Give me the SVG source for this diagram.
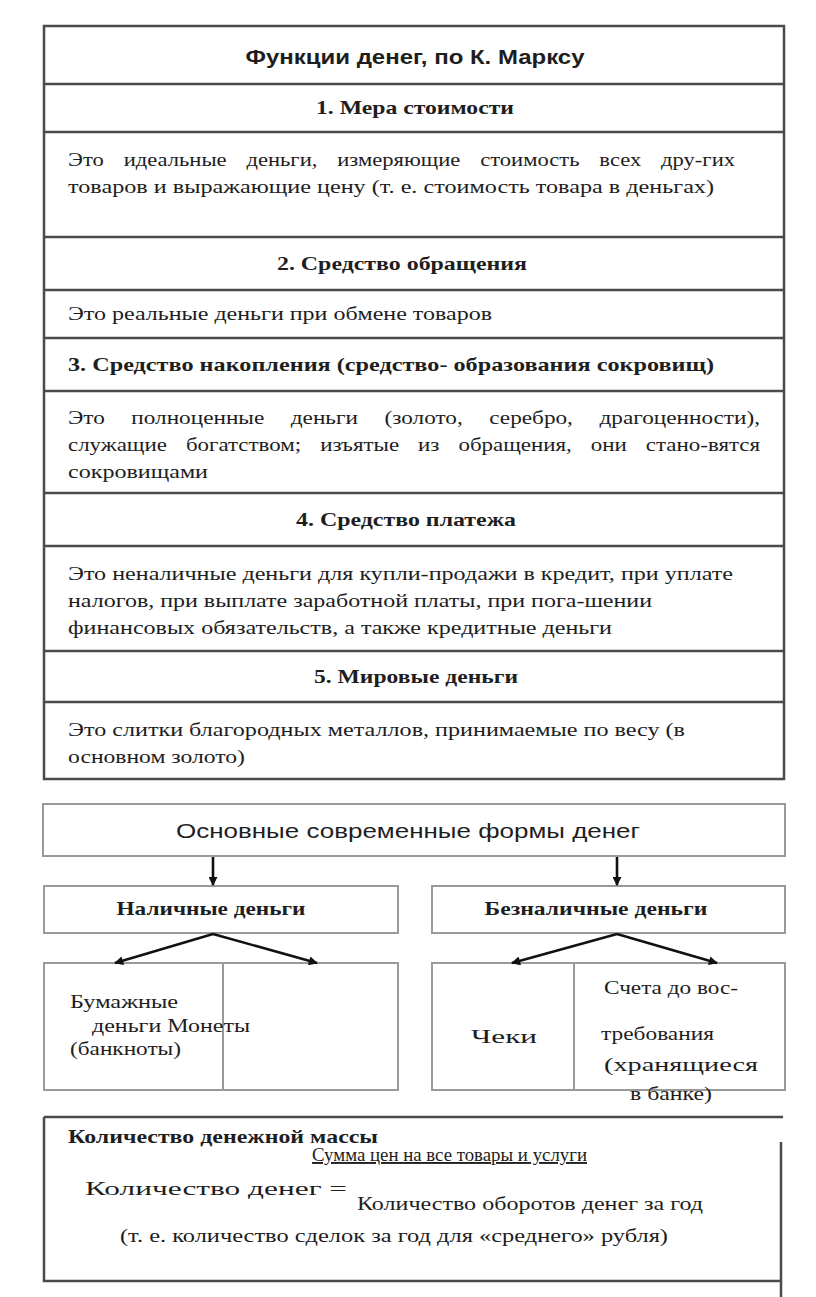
<svg xmlns="http://www.w3.org/2000/svg" width="816" height="1297" viewBox="0 0 816 1297">
<style>
.s{font-family:"Liberation Serif","Times New Roman",serif;fill:#1e1e1e;font-size:19px}
.b{font-weight:bold}
.sans{font-family:"Liberation Sans",Arial,sans-serif;fill:#1e1e1e}
.tl{stroke:#4a4a4a;stroke-width:2.5;fill:none}
.bx{stroke:#9a9a9a;stroke-width:2;fill:#fff}
.ar{stroke:#111;stroke-width:2.6;fill:none;marker-end:url(#ah)}
</style>
<defs>
<marker id="ah" viewBox="0 0 10 10" refX="9" refY="5" markerWidth="11" markerHeight="9" markerUnits="userSpaceOnUse" orient="auto">
<path d="M0,0 L10,5 L0,10 z" fill="#111"/>
</marker>
</defs>
<rect width="816" height="1297" fill="#fff"/>

<g id="marx-table">
<rect class="tl" x="44" y="26" width="740" height="753"/>
<path class="tl" d="M44 84H784M44 132H784M44 237H784M44 290H784M44 338H784M44 391H784M44 493H784M44 546H784M44 651H784M44 702H784"/>
<text class="sans b" x="415" y="64" font-size="20" text-anchor="middle" textLength="339" lengthAdjust="spacingAndGlyphs">Функции денег, по К. Марксу</text>
<text class="s b" x="415" y="114" text-anchor="middle" textLength="198" lengthAdjust="spacingAndGlyphs">1. Мера стоимости</text>
<text class="s" x="68" y="166" word-spacing="12" textLength="667" lengthAdjust="spacingAndGlyphs">Это идеальные деньги, измеряющие стоимость всех дру-гих</text>
<text class="s" x="68" y="193" textLength="646" lengthAdjust="spacingAndGlyphs">товаров и выражающие цену (т. е. стоимость товара в деньгах)</text>
<text class="s b" x="402" y="270" text-anchor="middle" textLength="250" lengthAdjust="spacingAndGlyphs">2. Средство обращения</text>
<text class="s" x="68" y="320" textLength="424" lengthAdjust="spacingAndGlyphs">Это реальные деньги при обмене товаров</text>
<text class="s b" x="68" y="371" textLength="646" lengthAdjust="spacingAndGlyphs">3. Средство накопления (средство- образования сокровищ)</text>
<text class="s" x="68" y="424" word-spacing="17" textLength="692" lengthAdjust="spacingAndGlyphs">Это полноценные деньги (золото, серебро, драгоценности),</text>
<text class="s" x="68" y="451" word-spacing="11" textLength="692" lengthAdjust="spacingAndGlyphs">служащие богатством; изъятые из обращения, они стано-вятся</text>
<text class="s" x="68" y="478" textLength="140" lengthAdjust="spacingAndGlyphs">сокровищами</text>
<text class="s b" x="406" y="526" text-anchor="middle" textLength="220" lengthAdjust="spacingAndGlyphs">4. Средство платежа</text>
<text class="s" x="68" y="580" textLength="665" lengthAdjust="spacingAndGlyphs">Это неналичные  деньги для купли-продажи  в кредит, при уплате</text>
<text class="s" x="68" y="607" textLength="584" lengthAdjust="spacingAndGlyphs">налогов, при выплате заработной платы, при пога-шении</text>
<text class="s" x="68" y="634" textLength="544" lengthAdjust="spacingAndGlyphs">финансовых обязательств, а также кредитные  деньги</text>
<text class="s b" x="416" y="683" text-anchor="middle" textLength="204" lengthAdjust="spacingAndGlyphs">5. Мировые деньги</text>
<text class="s" x="68" y="736" textLength="617" lengthAdjust="spacingAndGlyphs">Это слитки благородных металлов, принимаемые по весу (в</text>
<text class="s" x="68" y="763" textLength="177" lengthAdjust="spacingAndGlyphs">основном золото)</text>
</g>

<g id="forms-root">
<rect class="bx" x="43" y="804" width="742" height="52"/>
<text class="sans" x="408" y="838" font-size="21" text-anchor="middle" textLength="464" lengthAdjust="spacingAndGlyphs">Основные современные формы денег</text>
</g>

<g id="cash">
<rect class="bx" x="44" y="886" width="354" height="47"/>
<text class="s b" x="211" y="915" text-anchor="middle" textLength="189" lengthAdjust="spacingAndGlyphs">Наличные деньги</text>
</g>

<g id="noncash">
<rect class="bx" x="432" y="886" width="353" height="47"/>
<text class="s b" x="596" y="915" text-anchor="middle" textLength="223" lengthAdjust="spacingAndGlyphs">Безналичные деньги</text>
</g>

<g id="cash-forms">
<rect class="bx" x="44" y="963" width="354" height="127"/>
<line class="bx" x1="223" y1="963" x2="223" y2="1090"/>
<text class="s" x="70" y="1008" textLength="108" lengthAdjust="spacingAndGlyphs">Бумажные</text>
<text class="s" x="92" y="1032" textLength="158" lengthAdjust="spacingAndGlyphs">деньги Монеты</text>
<text class="s" x="70" y="1055" textLength="111" lengthAdjust="spacingAndGlyphs">(банкноты)</text>
</g>

<g id="noncash-forms">
<rect class="bx" x="432" y="963" width="353" height="127"/>
<line class="bx" x1="574" y1="963" x2="574" y2="1090"/>
<text class="s" x="471" y="1043" font-size="24" textLength="66" lengthAdjust="spacingAndGlyphs">Чеки</text>
<text class="s" x="604" y="994" textLength="134" lengthAdjust="spacingAndGlyphs">Счета до вос-</text>
<text class="s" x="601" y="1040" textLength="113" lengthAdjust="spacingAndGlyphs">требования</text>
<text class="s" x="604" y="1071" textLength="154" lengthAdjust="spacingAndGlyphs">(хранящиеся</text>
<text class="s" x="630" y="1100" textLength="82" lengthAdjust="spacingAndGlyphs">в банке)</text>
</g>

<g id="connectors">
<line class="ar" x1="213" y1="857" x2="213" y2="885"/>
<line class="ar" x1="617" y1="857" x2="617" y2="885"/>
<line class="ar" x1="213" y1="934" x2="115" y2="963"/>
<line class="ar" x1="213" y1="934" x2="317" y2="963"/>
<line class="ar" x1="617" y1="934" x2="512" y2="963"/>
<line class="ar" x1="617" y1="934" x2="717" y2="963"/>
</g>

<g id="money-mass">
<path class="tl" d="M44 1117H783M44 1117V1281H782M781 1142V1297"/>
<text class="s b" x="68" y="1143" textLength="310" lengthAdjust="spacingAndGlyphs">Количество денежной массы</text>
<text class="s" x="312" y="1161" font-size="13" text-decoration="underline" textLength="275" lengthAdjust="spacingAndGlyphs">Сумма цен на все товары и услуги</text>
<text class="s" x="85" y="1195" font-size="26" textLength="262" lengthAdjust="spacingAndGlyphs">Количество денег =</text>
<text class="s" x="357" y="1210" textLength="346" lengthAdjust="spacingAndGlyphs">Количество оборотов денег за год</text>
<text class="s" x="120" y="1242" textLength="548" lengthAdjust="spacingAndGlyphs">(т. е. количество сделок за год для «среднего» рубля)</text>
</g>
</svg>
